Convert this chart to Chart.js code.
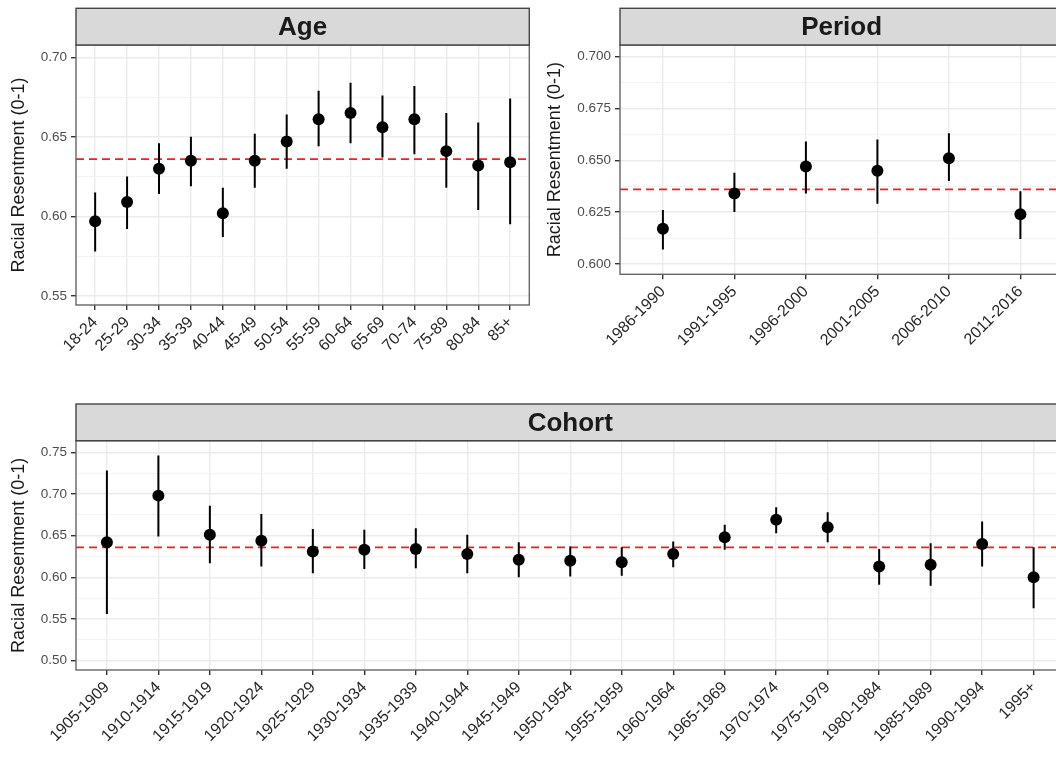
<!DOCTYPE html>
<html>
<head>
<meta charset="utf-8">
<script src="https://cdn.jsdelivr.net/npm/chart.js@4"></script>
<style>
  html, body { margin: 0; padding: 0; background: #fff; }
  #wrap { position: relative; width: 1056px; height: 757px; overflow: hidden; }
  canvas { position: absolute; }
</style>
</head>
<body>
<div id="wrap">
  <canvas id="ageChart" width="540" height="390" style="left:0;top:0"></canvas>
  <canvas id="periodChart" width="530" height="390" style="left:540px;top:0"></canvas>
  <canvas id="cohortChart" width="1075" height="367" style="left:0;top:390px"></canvas>
</div>
<script>
// Data
const refValue = 0.636;

const ageLabels = ['18-24', '25-29', '30-34', '35-39', '40-44', '45-49', '50-54', '55-59', '60-64', '65-69', '70-74', '75-89', '80-84', '85+'];
const ageEst = [0.597, 0.609, 0.630, 0.635, 0.602, 0.635, 0.647, 0.661, 0.665, 0.656, 0.661, 0.641, 0.632, 0.634];
const ageLo  = [0.578, 0.592, 0.614, 0.619, 0.587, 0.618, 0.630, 0.644, 0.646, 0.637, 0.639, 0.618, 0.604, 0.595];
const ageHi  = [0.615, 0.625, 0.646, 0.650, 0.618, 0.652, 0.664, 0.679, 0.684, 0.676, 0.682, 0.665, 0.659, 0.674];
const ageYMajor = [0.55, 0.60, 0.65, 0.70];
const ageYMinor = [0.575, 0.625, 0.675];

const periodLabels = ['1986-1990', '1991-1995', '1996-2000', '2001-2005', '2006-2010', '2011-2016'];
const periodEst = [0.617, 0.634, 0.647, 0.645, 0.651, 0.624];
const periodLo  = [0.607, 0.625, 0.634, 0.629, 0.640, 0.612];
const periodHi  = [0.626, 0.644, 0.659, 0.660, 0.663, 0.635];
const periodYMajor = [0.600, 0.625, 0.650, 0.675, 0.700];
const periodYMinor = [0.6125, 0.6375, 0.6625, 0.6875];

const cohortLabels = ['1905-1909', '1910-1914', '1915-1919', '1920-1924', '1925-1929', '1930-1934', '1935-1939', '1940-1944', '1945-1949', '1950-1954', '1955-1959', '1960-1964', '1965-1969', '1970-1974', '1975-1979', '1980-1984', '1985-1989', '1990-1994', '1995+'];
const cohortEst = [0.642, 0.698, 0.651, 0.644, 0.631, 0.633, 0.634, 0.628, 0.621, 0.620, 0.618, 0.628, 0.648, 0.669, 0.660, 0.613, 0.615, 0.640, 0.600];
const cohortLo  = [0.556, 0.649, 0.617, 0.613, 0.605, 0.610, 0.611, 0.605, 0.600, 0.601, 0.602, 0.612, 0.633, 0.653, 0.642, 0.591, 0.590, 0.613, 0.563];
const cohortHi  = [0.728, 0.746, 0.686, 0.676, 0.658, 0.657, 0.659, 0.651, 0.642, 0.637, 0.636, 0.643, 0.663, 0.684, 0.678, 0.634, 0.641, 0.667, 0.636];
const cohortYMajor = [0.50, 0.55, 0.60, 0.65, 0.70, 0.75];
const cohortYMinor = [0.525, 0.575, 0.625, 0.675, 0.725];

Chart.defaults.font.family = '"Liberation Sans", Arial, Helvetica, sans-serif';

// strip header, panel border and reference line
const panelPlugin = {
    id: 'panel',
    beforeDatasetsDraw(chart, args, opts) {
        const { ctx, chartArea: a } = chart;
        const yy = chart.scales.y.getPixelForValue(opts.ref);
        ctx.save();
        ctx.strokeStyle = '#FF1A1A';
        ctx.lineWidth = 1.8;
        ctx.setLineDash([8, 5]);
        ctx.beginPath();
        ctx.moveTo(a.left, yy);
        ctx.lineTo(a.right, yy);
        ctx.stroke();
        ctx.restore();
    },
    afterDraw(chart, args, opts) {
        const { ctx, chartArea: a } = chart;
        const h = 36.7;
        ctx.save();
        ctx.strokeStyle = '#666';
        ctx.lineWidth = 1.4;
        ctx.strokeRect(a.left, a.top, a.right - a.left, a.bottom - a.top);
        ctx.fillStyle = '#D9D9D9';
        ctx.fillRect(a.left, a.top - h, a.right - a.left, h);
        ctx.strokeStyle = '#444';
        ctx.strokeRect(a.left, a.top - h, a.right - a.left, h);
        ctx.fillStyle = '#1A1A1A';
        ctx.font = 'bold 26px "Liberation Sans", Arial, sans-serif';
        ctx.textAlign = 'center';
        ctx.textBaseline = 'middle';
        ctx.fillText(opts.title, (a.left + a.right) / 2, a.top - h / 2 + 1);
        ctx.restore();
    }
};

function makePanel(id, p) {
    const n = p.labels.length;
    const yTicks = p.major.concat(p.minor).sort((a, b) => a - b);
    const isMajor = v => p.major.includes(v);

    const points = p.est.map((v, i) => ({ x: i, y: v }));
    const bars = [];
    p.lo.forEach((v, i) => {
        bars.push({ x: i, y: v }, { x: i, y: p.hi[i] }, { x: i, y: null });
    });

    return new Chart(document.getElementById(id), {
        type: 'line',
        data: {
            datasets: [
                {
                    data: points,
                    showLine: false,
                    pointRadius: 6,
                    pointBackgroundColor: '#000',
                    pointBorderColor: '#000',
                    pointBorderWidth: 0
                },
                {
                    data: bars,
                    borderColor: '#000',
                    borderWidth: 2,
                    pointRadius: 0,
                    spanGaps: false
                }
            ]
        },
        options: {
            responsive: false,
            animation: false,
            events: [],
            layout: { autoPadding: false, padding: p.pad },
            plugins: {
                legend: { display: false },
                tooltip: { enabled: false },
                panel: { title: p.title, ref: refValue }
            },
            scales: {
                x: {
                    type: 'linear',
                    min: -0.6,
                    max: n - 0.4,
                    afterBuildTicks: s => { s.ticks = p.labels.map((_, i) => ({ value: i })); },
                    afterFit: s => { s.height = p.xh; },
                    border: { display: false },
                    grid: { color: '#EBEBEB', lineWidth: 1.4, tickColor: '#333', tickLength: 5 },
                    ticks: {
                        autoSkip: false,
                        minRotation: 45,
                        maxRotation: 45,
                        padding: 3,
                        color: '#262626',
                        font: { size: 16 },
                        callback: v => p.labels[v]
                    }
                },
                y: {
                    min: p.ymin,
                    max: p.ymax,
                    afterBuildTicks: s => { s.ticks = yTicks.map(v => ({ value: v })); },
                    afterFit: s => { s.width = p.yw; },
                    border: { display: false },
                    grid: {
                        color: c => c.tick && isMajor(c.tick.value) ? '#EBEBEB' : '#F3F3F3',
                        lineWidth: c => c.tick && isMajor(c.tick.value) ? 1.4 : 1,
                        tickColor: c => c.tick && isMajor(c.tick.value) ? '#333' : 'rgba(0,0,0,0)',
                        tickLength: 5
                    },
                    ticks: {
                        padding: 4,
                        color: '#4D4D4D',
                        font: { size: 13.5 },
                        callback: v => isMajor(v) ? v.toFixed(p.dec) : ''
                    },
                    title: {
                        display: true,
                        text: 'Racial Resentment (0-1)',
                        color: '#1A1A1A',
                        font: { size: 18 },
                        padding: { top: p.titlePad, bottom: 0 }
                    }
                }
            }
        },
        plugins: [panelPlugin]
    });
}

makePanel('ageChart', {
    title: 'Age', labels: ageLabels, est: ageEst, lo: ageLo, hi: ageHi,
    major: ageYMajor, minor: ageYMinor, dec: 2, ymin: 0.5443, ymax: 0.7077,
    yw: 76, xh: 60, titlePad: 8.7,
    pad: { left: 0, top: 45, right: 10.7, bottom: 25 }
});

makePanel('periodChart', {
    title: 'Period', labels: periodLabels, est: periodEst, lo: periodLo, hi: periodHi,
    major: periodYMajor, minor: periodYMinor, dec: 3, ymin: 0.595, ymax: 0.7056,
    yw: 80, xh: 90, titlePad: 4.7,
    pad: { left: 0, top: 45, right: 6.7, bottom: 25.7 }
});

makePanel('cohortChart', {
    title: 'Cohort', labels: cohortLabels, est: cohortEst, lo: cohortLo, hi: cohortHi,
    major: cohortYMajor, minor: cohortYMinor, dec: 2, ymin: 0.4888, ymax: 0.7639,
    yw: 76, xh: 80, titlePad: 8.7,
    pad: { left: 0, top: 50.7, right: 10.5, bottom: 7 }
});
</script>
</body>
</html>
